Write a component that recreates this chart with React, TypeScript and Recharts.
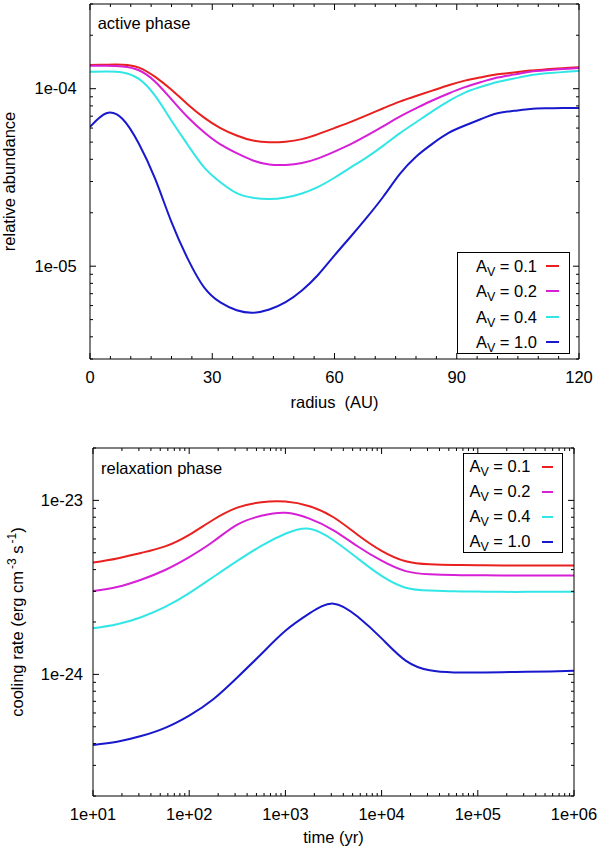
import React from "react";
import { LineChart, Line, XAxis, YAxis, Legend } from "recharts";

// Active phase: relative abundance vs radius (AU)
const radius = [0, 4, 8, 12, 16, 20, 24, 28, 32, 36, 40, 44, 48, 52, 56, 60, 64, 68, 72, 76, 80, 84, 88, 92, 96, 100, 104, 108, 112, 116, 120];
const activeAv01 = [1.36e-4, 1.365e-4, 1.365e-4, 1.315e-4, 1.165e-4, 9.85e-5, 8.15e-5, 6.87e-5, 6.0e-5, 5.45e-5, 5.1e-5, 4.99e-5, 5.03e-5, 5.2e-5, 5.55e-5, 6.0e-5, 6.5e-5, 7.1e-5, 7.76e-5, 8.46e-5, 9.1e-5, 9.75e-5, 1.045e-4, 1.11e-4, 1.16e-4, 1.205e-4, 1.235e-4, 1.265e-4, 1.285e-4, 1.305e-4, 1.32e-4];
const activeAv02 = [1.347e-4, 1.345e-4, 1.335e-4, 1.27e-4, 1.095e-4, 8.7e-5, 6.9e-5, 5.68e-5, 4.85e-5, 4.33e-5, 3.94e-5, 3.74e-5, 3.72e-5, 3.81e-5, 4.05e-5, 4.42e-5, 4.87e-5, 5.45e-5, 6.15e-5, 6.96e-5, 7.75e-5, 8.58e-5, 9.4e-5, 1.02e-4, 1.09e-4, 1.155e-4, 1.2e-4, 1.245e-4, 1.27e-4, 1.29e-4, 1.31e-4];
const activeAv04 = [1.246e-4, 1.25e-4, 1.235e-4, 1.135e-4, 9.1e-5, 6.6e-5, 4.82e-5, 3.6e-5, 2.97e-5, 2.58e-5, 2.43e-5, 2.39e-5, 2.44e-5, 2.57e-5, 2.8e-5, 3.15e-5, 3.6e-5, 4.12e-5, 4.78e-5, 5.6e-5, 6.47e-5, 7.45e-5, 8.5e-5, 9.5e-5, 1.025e-4, 1.09e-4, 1.14e-4, 1.19e-4, 1.22e-4, 1.24e-4, 1.26e-4];
const activeAv10 = [6.09e-5, 7.27e-5, 6.75e-5, 4.9e-5, 3.1e-5, 1.77e-5, 1.1e-5, 7.6e-6, 6.25e-6, 5.65e-6, 5.47e-6, 5.7e-6, 6.27e-6, 7.3e-6, 8.95e-6, 1.15e-5, 1.47e-5, 1.89e-5, 2.47e-5, 3.3e-5, 4.14e-5, 4.89e-5, 5.63e-5, 6.2e-5, 6.75e-5, 7.27e-5, 7.5e-5, 7.69e-5, 7.75e-5, 7.78e-5, 7.79e-5];

// Relaxation phase: cooling rate vs time (yr)
const time = [10, 17.8, 31.6, 56.2, 100, 178, 316, 562, 1000, 1780, 3160, 5620, 10000, 17800, 31600, 56200, 100000, 178000, 316000, 562000, 1000000];
const relaxAv01 = [4.39e-24, 4.64e-24, 4.99e-24, 5.44e-24, 6.34e-24, 7.74e-24, 9.08e-24, 9.76e-24, 9.85e-24, 9.26e-24, 8.0e-24, 6.35e-24, 5.13e-24, 4.47e-24, 4.29e-24, 4.25e-24, 4.24e-24, 4.23e-24, 4.23e-24, 4.22e-24, 4.22e-24];
const relaxAv02 = [3.01e-24, 3.18e-24, 3.5e-24, 3.98e-24, 4.72e-24, 5.8e-24, 7.25e-24, 8.15e-24, 8.48e-24, 7.85e-24, 6.73e-24, 5.45e-24, 4.5e-24, 3.92e-24, 3.76e-24, 3.72e-24, 3.71e-24, 3.7e-24, 3.7e-24, 3.7e-24, 3.7e-24];
const relaxAv04 = [1.84e-24, 1.94e-24, 2.13e-24, 2.44e-24, 2.93e-24, 3.63e-24, 4.49e-24, 5.48e-24, 6.43e-24, 6.87e-24, 5.9e-24, 4.65e-24, 3.68e-24, 3.15e-24, 3.03e-24, 3.0e-24, 2.99e-24, 2.98e-24, 2.98e-24, 2.98e-24, 2.98e-24];
const relaxAv10 = [3.93e-25, 4.1e-25, 4.42e-25, 4.93e-25, 5.8e-25, 7.2e-25, 9.6e-25, 1.31e-24, 1.78e-24, 2.24e-24, 2.55e-24, 2.15e-24, 1.61e-24, 1.2e-24, 1.055e-24, 1.026e-24, 1.025e-24, 1.03e-24, 1.035e-24, 1.04e-24, 1.05e-24];

const avNames = ["0.1", "0.2", "0.4", "1.0"];
const avColors = ["#e8201e", "#d61fd6", "#33e6e6", "#1818cc"];

// ticks
const radiusMajor = [0, 30, 60, 90, 120];
const radiusLabels = ["0", "30", "60", "90", "120"];
const radiusMinor = [5, 10, 15, 20, 25, 35, 40, 45, 50, 55, 65, 70, 75, 80, 85, 95, 100, 105, 110, 115];
const abundanceMajor = [1e-5, 1e-4];
const abundanceLabels = ["1e-05", "1e-04"];
const abundanceMinor = [3e-6, 4e-6, 5e-6, 6e-6, 7e-6, 8e-6, 9e-6, 2e-5, 3e-5, 4e-5, 5e-5, 6e-5, 7e-5, 8e-5, 9e-5, 2e-4, 3e-4];
const timeMajor = [10, 100, 1000, 10000, 100000, 1000000];
const timeLabels = ["1e+01", "1e+02", "1e+03", "1e+04", "1e+05", "1e+06"];
const coolingMajor = [1e-24, 1e-23];
const coolingLabels = ["1e-24", "1e-23"];

// 2..9 x each decade start, for the unlabeled log ticks
const decadeMinors = (starts: number[]) =>
  starts.flatMap((s) => [2, 3, 4, 5, 6, 7, 8, 9].map((m) => Number((m * s).toPrecision(3))));
const timeMinor = decadeMinors([10, 100, 1000, 10000, 100000]);
const coolingMinor = decadeMinors([1e-25, 1e-24]).concat([2e-23]);

const activeRows = radius.map((r, i) => ({
  radius: r,
  av01: activeAv01[i],
  av02: activeAv02[i],
  av04: activeAv04[i],
  av10: activeAv10[i],
}));
const relaxRows = time.map((t, i) => ({
  time: t,
  av01: relaxAv01[i],
  av02: relaxAv02[i],
  av04: relaxAv04[i],
  av10: relaxAv10[i],
}));
const seriesKeys = ["av01", "av02", "av04", "av10"];

const FONT = "'Liberation Sans', Arial, Helvetica, sans-serif";
const FS = 16.5;

type Side = "left" | "right" | "top" | "bottom";

const AxisTick = (props: any) => {
  const { x = 0, y = 0, payload, side, majors, labels, gap = 0 } = props;
  const value = payload ? payload.value : 0;
  const idx = majors.indexOf(value);
  const len = idx >= 0 ? 6 : 3;
  const s: Side = side;
  let x2 = x;
  let y2 = y;
  if (s === "bottom") y2 = y - len;
  if (s === "top") y2 = y + len;
  if (s === "left") x2 = x + len;
  if (s === "right") x2 = x - len;
  let text = null;
  if (labels && idx >= 0) {
    if (s === "bottom") {
      text = (
        <text x={x} y={y + gap} textAnchor="middle" fontSize={FS} fontFamily={FONT} fill="#000">
          {labels[idx]}
        </text>
      );
    } else if (s === "left") {
      text = (
        <text x={x - gap} y={y + 5.8} textAnchor="end" fontSize={FS} fontFamily={FONT} fill="#000">
          {labels[idx]}
        </text>
      );
    }
  }
  return (
    <g>
      <line x1={x} y1={y} x2={x2} y2={y2} stroke="#000" strokeWidth={1} />
      {text}
    </g>
  );
};

const AvLegend = (props: any) => {
  const { payload = [], rowHeight, swatch, gap, padRight } = props;
  return (
    <div
      style={{
        width: "100%",
        height: "100%",
        boxSizing: "border-box",
        border: "1px solid #000",
        background: "#fff",
        fontFamily: FONT,
        fontSize: FS,
        paddingRight: padRight,
      }}
    >
      {payload.map((entry: any) => (
        <div
          key={entry.value}
          style={{ display: "flex", justifyContent: "flex-end", alignItems: "center", height: rowHeight }}
        >
          <span style={{ lineHeight: 1, whiteSpace: "nowrap" }}>
            A<span style={{ fontSize: 12.5, position: "relative", top: 4 }}>V</span> = {entry.value}
          </span>
          <span
            style={{ display: "inline-block", width: swatch, height: 2, background: entry.color, marginLeft: gap }}
          />
        </div>
      ))}
    </div>
  );
};

const axisLine = { stroke: "#000", strokeWidth: 1 };

const ActiveChart = () => (
  <LineChart width={600} height={420} data={activeRows} margin={{ top: 0, right: 0, bottom: 0, left: 0 }}>
    <XAxis
      dataKey="radius"
      type="number"
      domain={[0, 120]}
      allowDataOverflow
      ticks={radiusMajor.concat(radiusMinor)}
      interval={0}
      height={61}
      tickSize={0}
      tickMargin={0}
      axisLine={axisLine}
      tick={(p: any) => <AxisTick {...p} side="bottom" majors={radiusMajor} labels={radiusLabels} gap={24} />}
      label={(p: any) => {
        const vb = p.viewBox || { x: 90, y: 359, width: 489 };
        return (
          <text x={vb.x + vb.width / 2} y={vb.y + 49} textAnchor="middle" fontSize={FS} fontFamily={FONT} style={{ whiteSpace: "pre" }}>
            radius  (AU)
          </text>
        );
      }}
    />
    <XAxis
      xAxisId="top"
      orientation="top"
      dataKey="radius"
      type="number"
      domain={[0, 120]}
      allowDataOverflow
      ticks={radiusMajor.concat(radiusMinor)}
      interval={0}
      height={4}
      tickSize={0}
      tickMargin={0}
      axisLine={axisLine}
      tick={(p: any) => <AxisTick {...p} side="top" majors={radiusMajor} />}
    />
    <YAxis
      type="number"
      scale="log"
      domain={[3e-6, 3e-4]}
      allowDataOverflow
      ticks={abundanceMajor.concat(abundanceMinor)}
      interval={0}
      width={90}
      tickSize={0}
      tickMargin={0}
      axisLine={axisLine}
      tick={(p: any) => <AxisTick {...p} side="left" majors={abundanceMajor} labels={abundanceLabels} gap={13.3} />}
      label={(p: any) => {
        const vb = p.viewBox || { x: 0, y: 4, height: 355 };
        const cx = vb.x + 15.3;
        const cy = vb.y + vb.height / 2;
        return (
          <text x={cx} y={cy} transform={`rotate(-90 ${cx} ${cy})`} textAnchor="middle" fontSize={FS} fontFamily={FONT}>
            relative abundance
          </text>
        );
      }}
    />
    <YAxis
      yAxisId="right"
      orientation="right"
      type="number"
      scale="log"
      domain={[3e-6, 3e-4]}
      allowDataOverflow
      ticks={abundanceMajor.concat(abundanceMinor)}
      interval={0}
      width={21}
      tickSize={0}
      tickMargin={0}
      axisLine={axisLine}
      tick={(p: any) => <AxisTick {...p} side="right" majors={abundanceMajor} />}
    />
    <Legend
      layout="vertical"
      align="center"
      verticalAlign="middle"
      wrapperStyle={{ left: 457, top: 252, width: 113, height: 102 }}
      content={(p: any) => <AvLegend {...p} rowHeight={25.5} swatch={13} gap={9} padRight={10} />}
    />
    {seriesKeys.map((k, i) => (
      <Line
        key={k}
        dataKey={k}
        name={avNames[i]}
        type="natural"
        stroke={avColors[i]}
        strokeWidth={2}
        dot={false}
        isAnimationActive={false}
      />
    ))}
  </LineChart>
);

const RelaxChart = () => (
  <LineChart width={600} height={430} data={relaxRows} margin={{ top: 0, right: 0, bottom: 0, left: 0 }}>
    <XAxis
      dataKey="time"
      type="number"
      scale="log"
      domain={[10, 1000000]}
      allowDataOverflow
      ticks={timeMajor.concat(timeMinor)}
      interval={0}
      height={54}
      tickSize={0}
      tickMargin={0}
      axisLine={axisLine}
      tick={(p: any) => <AxisTick {...p} side="bottom" majors={timeMajor} labels={timeLabels} gap={24} />}
      label={(p: any) => {
        const vb = p.viewBox || { x: 93, y: 376, width: 481 };
        return (
          <text x={vb.x + vb.width / 2} y={vb.y + 47} textAnchor="middle" fontSize={FS} fontFamily={FONT}>
            time (yr)
          </text>
        );
      }}
    />
    <XAxis
      xAxisId="top"
      orientation="top"
      dataKey="time"
      type="number"
      scale="log"
      domain={[10, 1000000]}
      allowDataOverflow
      ticks={timeMajor.concat(timeMinor)}
      interval={0}
      height={28}
      tickSize={0}
      tickMargin={0}
      axisLine={axisLine}
      tick={(p: any) => <AxisTick {...p} side="top" majors={timeMajor} />}
    />
    <YAxis
      type="number"
      scale="log"
      domain={[2e-25, 2e-23]}
      allowDataOverflow
      ticks={coolingMajor.concat(coolingMinor)}
      interval={0}
      width={93}
      tickSize={0}
      tickMargin={0}
      axisLine={axisLine}
      tick={(p: any) => <AxisTick {...p} side="left" majors={coolingMajor} labels={coolingLabels} gap={10} />}
      label={(p: any) => {
        const vb = p.viewBox || { x: 0, y: 28, height: 348 };
        const cx = vb.x + 23.3;
        const cy = vb.y + vb.height / 2;
        return (
          <text x={cx} y={cy} transform={`rotate(-90 ${cx} ${cy})`} textAnchor="middle" fontSize={FS} fontFamily={FONT}>
            cooling rate (erg cm
            <tspan dx={2} dy={-7} fontSize={12}>-3</tspan>
            <tspan dy={7}> s</tspan>
            <tspan dx={2} dy={-7} fontSize={12}>-1</tspan>
            <tspan dy={7}>)</tspan>
          </text>
        );
      }}
    />
    <YAxis
      yAxisId="right"
      orientation="right"
      type="number"
      scale="log"
      domain={[2e-25, 2e-23]}
      allowDataOverflow
      ticks={coolingMajor.concat(coolingMinor)}
      interval={0}
      width={26}
      tickSize={0}
      tickMargin={0}
      axisLine={axisLine}
      tick={(p: any) => <AxisTick {...p} side="right" majors={coolingMajor} />}
    />
    <Legend
      layout="vertical"
      align="center"
      verticalAlign="middle"
      wrapperStyle={{ left: 463, top: 33, width: 100, height: 100 }}
      content={(p: any) => <AvLegend {...p} rowHeight={25} swatch={11} gap={11.5} padRight={9} />}
    />
    {seriesKeys.map((k, i) => (
      <Line
        key={k}
        dataKey={k}
        name={avNames[i]}
        type="natural"
        stroke={avColors[i]}
        strokeWidth={2}
        dot={false}
        isAnimationActive={false}
      />
    ))}
  </LineChart>
);

export default function App() {
  return (
    <div style={{ position: "absolute", left: 0, top: 0, width: 600, height: 850, background: "#fff" }}>
      <div style={{ position: "absolute", left: 0, top: 0 }}>
        <ActiveChart />
      </div>
      <div style={{ position: "absolute", left: 0, top: 420 }}>
        <RelaxChart />
      </div>
      <svg
        width={600}
        height={850}
        style={{ position: "absolute", left: 0, top: 0, pointerEvents: "none" }}
      >
        <text x={97.7} y={29.3} fontSize={FS} fontFamily={FONT}>active phase</text>
        <text x={101} y={474.3} fontSize={FS} fontFamily={FONT}>relaxation phase</text>
      </svg>
    </div>
  );
}
